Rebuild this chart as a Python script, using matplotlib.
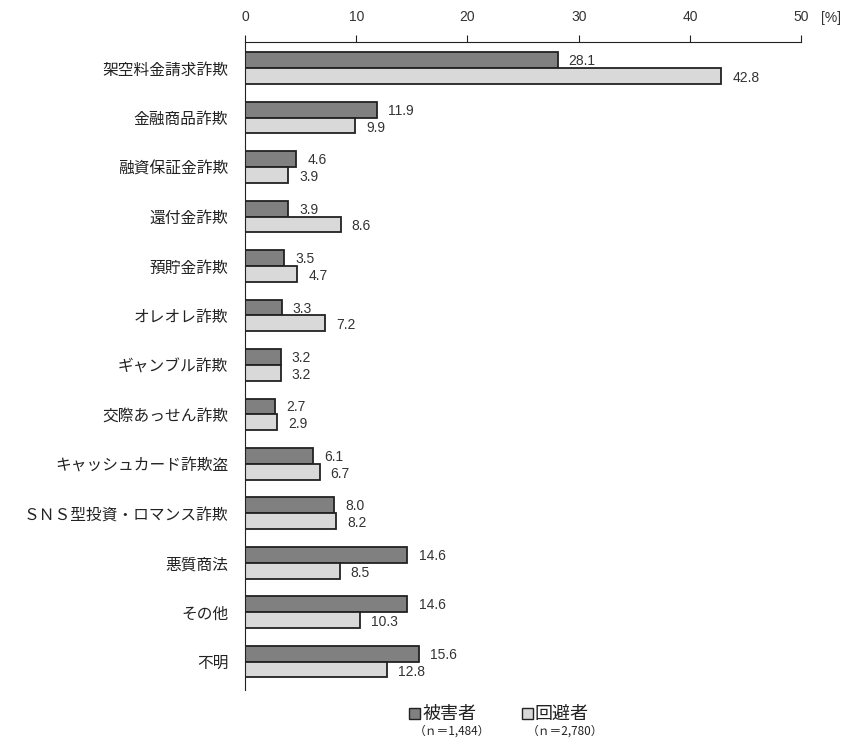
import matplotlib.pyplot as plt
from matplotlib.patches import Rectangle
import numpy as np

plt.rcParams['font.family'] = ['Noto Sans CJK JP', 'DejaVu Sans']

categories = ["架空料金請求詐欺", "金融商品詐欺", "融資保証金詐欺", "還付金詐欺", "預貯金詐欺",
              "オレオレ詐欺", "ギャンブル詐欺", "交際あっせん詐欺", "キャッシュカード詐欺盗",
              "ＳＮＳ型投資・ロマンス詐欺", "悪質商法", "その他", "不明"]
victims = [28.1, 11.9, 4.6, 3.9, 3.5, 3.3, 3.2, 2.7, 6.1, 8.0, 14.6, 14.6, 15.6]
avoiders = [42.8, 9.9, 3.9, 8.6, 4.7, 7.2, 3.2, 2.9, 6.7, 8.2, 8.5, 10.3, 12.8]
series_names = ["被害者", "回避者"]
series_n = ["（ｎ＝1,484）", "（ｎ＝2,780）"]

dark = "#808080"
light = "#d9d9d9"

fig = plt.figure(figsize=(8.67, 7.49), dpi=100)
ax = fig.add_axes([0.2826, 0.079, 0.6414, 0.865])

y = np.arange(len(categories))
h = 0.32
ax.barh(y - h / 2, victims, height=h, color=dark, edgecolor="#222222", linewidth=1.3)
ax.barh(y + h / 2, avoiders, height=h, color=light, edgecolor="#222222", linewidth=1.3)

for i in range(len(categories)):
    ax.text(victims[i] + 1.0, y[i] - h / 2 + 0.02, f"{victims[i]:.1f}", va="center", ha="left",
            fontsize=10, color="#333333", family="Liberation Sans")
    ax.text(avoiders[i] + 1.0, y[i] + h / 2 + 0.04, f"{avoiders[i]:.1f}", va="center", ha="left",
            fontsize=10, color="#333333", family="Liberation Sans")

ax.set_xlim(0, 50)
ax.set_ylim(12.57, -0.53)
ax.set_xticks([0, 10, 20, 30, 40, 50])
ax.xaxis.tick_top()
ax.tick_params(axis="x", length=5, color="#222222", labelsize=10, labelcolor="#333333", pad=8)
ax.tick_params(axis="y", length=0, labelsize=11.3, labelcolor="#222222", pad=12)
ax.set_yticks(y)
ax.set_yticklabels(categories)
for lab in ax.get_xticklabels():
    lab.set_family("Liberation Sans")
ax.spines["right"].set_visible(False)
ax.spines["bottom"].set_visible(False)
ax.spines["top"].set_color("#222222")
ax.spines["left"].set_color("#222222")
fig.text(0.958, 0.976, "[%]", fontsize=10, color="#333333", ha="center", va="center",
         family="Liberation Sans")

# legend
for x0, col, name, n in [(0.472, dark, series_names[0], series_n[0]),
                         (0.602, light, series_names[1], series_n[1])]:
    fig.patches.append(Rectangle((x0, 0.040), 0.0125, 0.0145, transform=fig.transFigure,
                                 facecolor=col, edgecolor="#222222", linewidth=1.0))
    fig.text(x0 + 0.015, 0.047, name, fontsize=13, va="center", ha="left", color="#222222")
    fig.text(x0 + 0.005, 0.024, n, fontsize=8.5, va="center", ha="left", color="#222222")

fig.savefig("out.png", dpi=100)
